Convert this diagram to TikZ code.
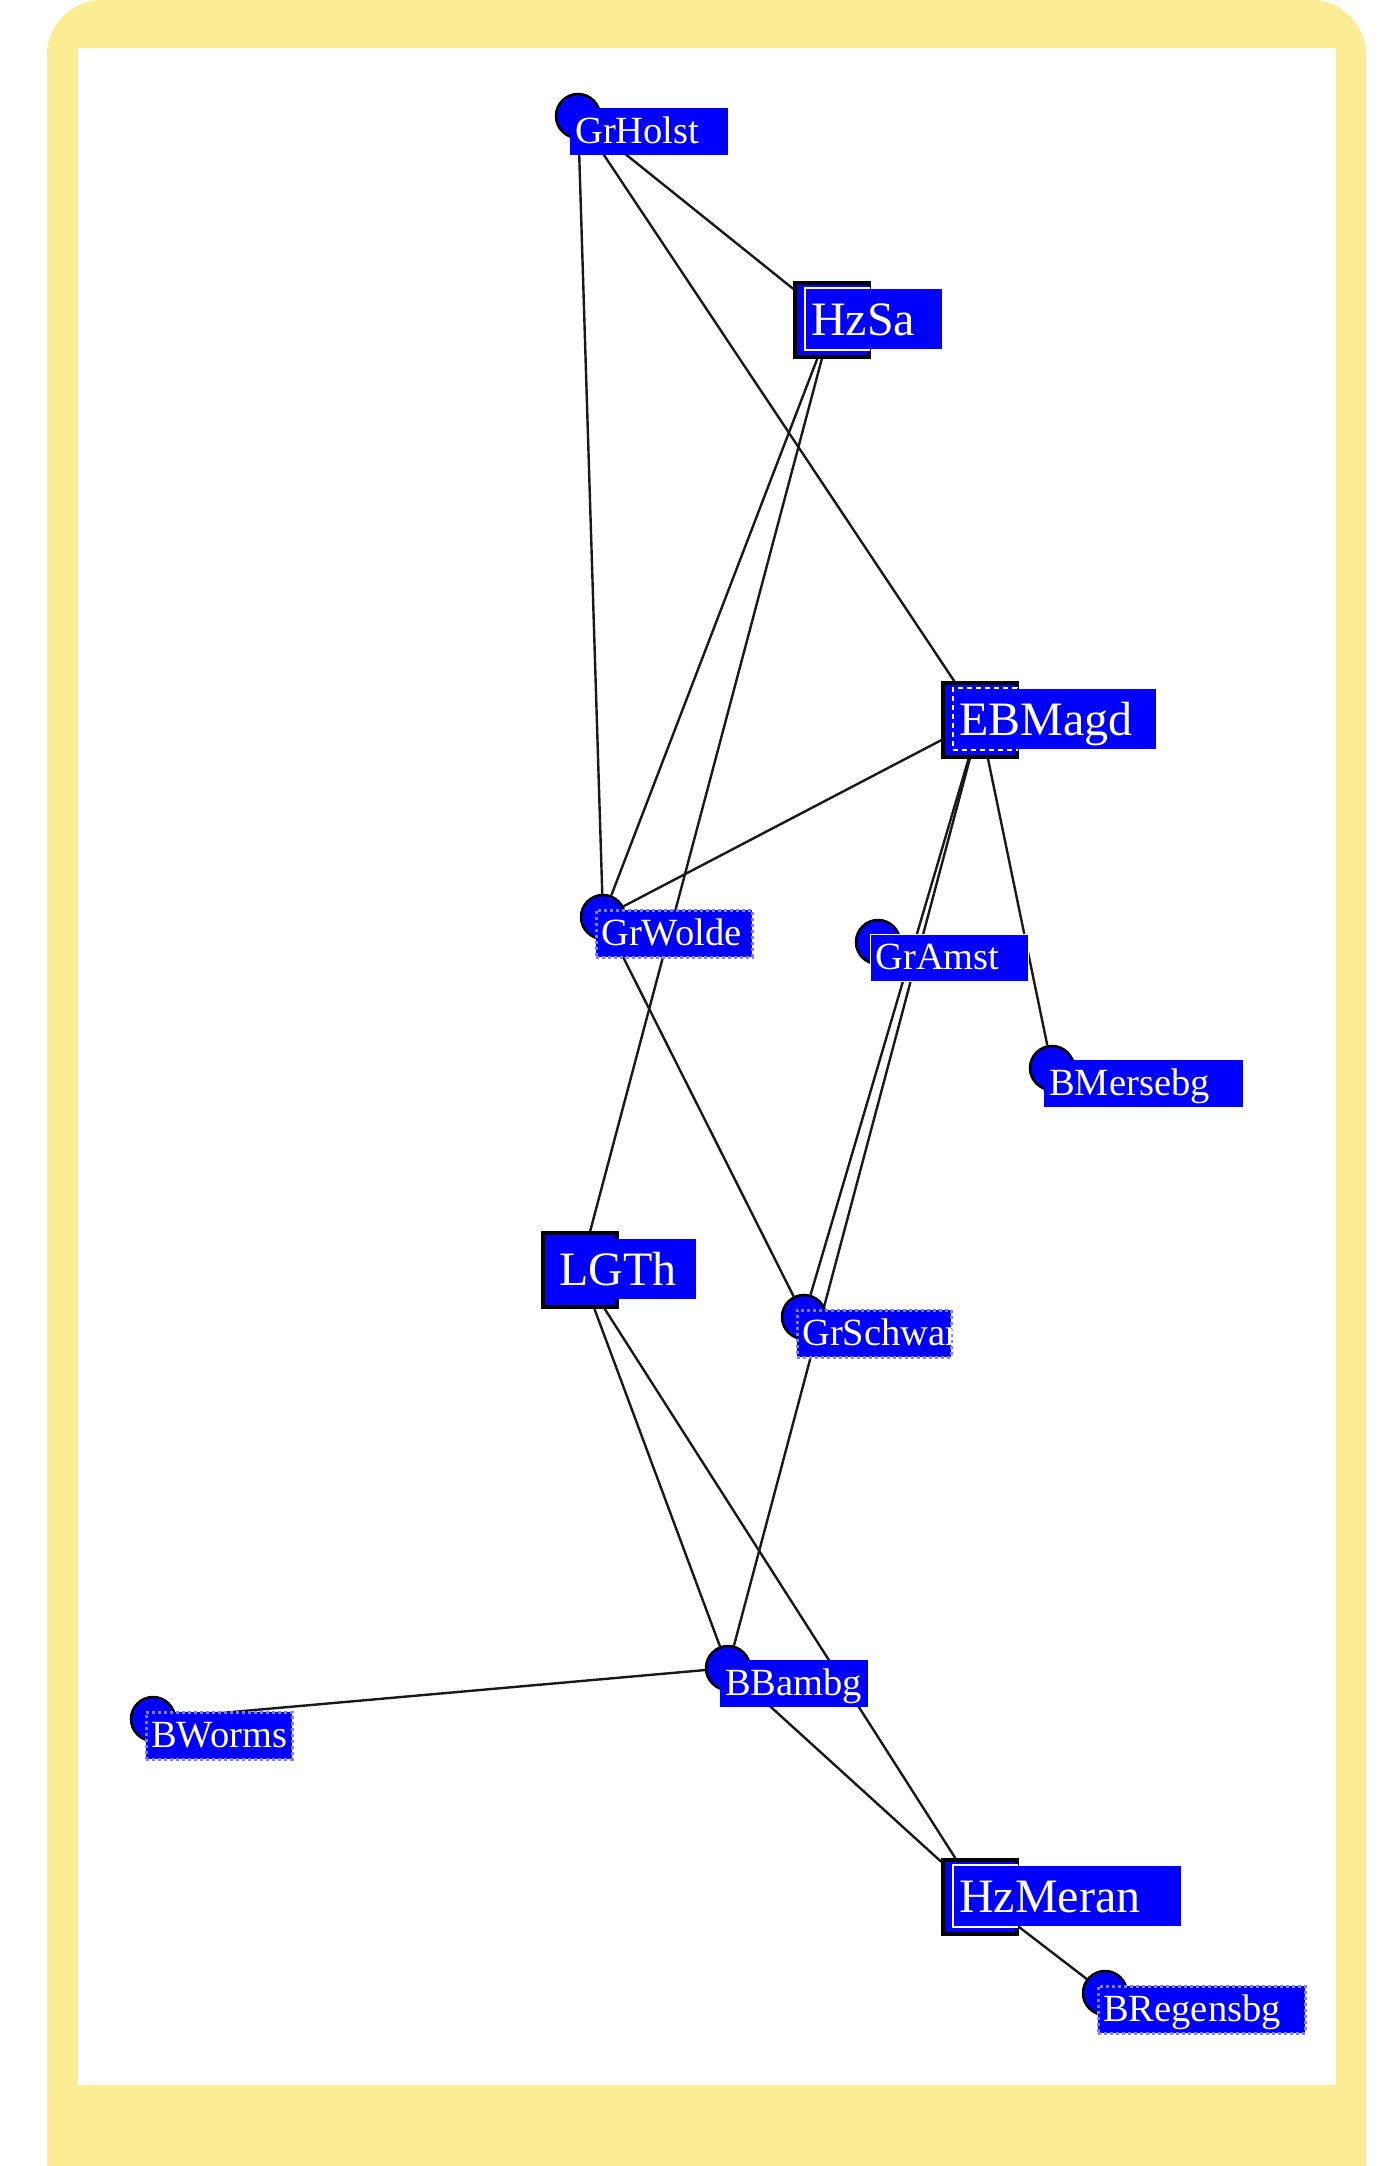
\documentclass[tikz,border=0pt]{standalone}
\usepackage{fontspec}
\setmainfont{Liberation Serif}
\usetikzlibrary{positioning}
\hyphenpenalty=10000
\definecolor{paleyellow}{RGB}{252,236,148}
\definecolor{netblue}{RGB}{0,0,255}
\definecolor{dotblue}{RGB}{125,125,255}
\pgfdeclarelayer{back}
\pgfdeclarelayer{edges}
\pgfsetlayers{back,edges,main}
\tikzset{
    person/.style={circle, draw=black, line width=2.5pt, fill=netblue, minimum size=44pt, inner sep=0pt},
    office/.style={rectangle, draw=black, line width=3.5pt, fill=netblue, minimum size=74pt, inner sep=0pt},
    inset/.style={rectangle, draw=white, line width=2.5pt, minimum width=64pt, minimum height=62pt, inner sep=0pt, xshift=5pt, yshift=1pt},
    tagbase/.style={anchor=north west, fill=netblue, text=white, align=left, inner ysep=0pt, text width=#1},
    tag/.style={tagbase=#1, inner xsep=5pt, text height=35pt, text depth=12pt, xshift=-8pt, yshift=8pt, font=\fontsize{38.5}{40}\selectfont},
    bigtag/.style={tagbase=#1, inner xsep=4pt, text height=46pt, text depth=14pt, xshift=-25pt, yshift=31pt, font=\fontsize{48}{50}\selectfont},
    fuzzy/.style={draw=dotblue, dash pattern=on 3pt off 3pt, line width=2.5pt},
    rel/.style={draw=black!90, line width=2.4pt}
}

\begin{document}
\begin{tikzpicture}[x=1pt, y=-1pt]
    \useasboundingbox (0,0) rectangle (1382,2166);
    \begin{pgfonlayer}{back}
        \begin{scope}
            \clip (0,0) rectangle (1382,2166);
            \fill[paleyellow, rounded corners=55pt] (47,0) rectangle (1366,2240);
            \fill[white] (78,48) rectangle (1336,2085);
        \end{scope}
    \end{pgfonlayer}

    % persons and offices
    \node[person] (holst) at (578,116) {};
    \node[tag=148pt] (holst-l) at (holst.center) {GrHolst};

    \node[office] (hzsa) at (832,320) {};
    \node[inset] (hzsa-f) at (hzsa.center) {};
    \node[bigtag=127pt] (hzsa-l) at (hzsa.center) {HzSa};

    \node[office] (ebmagd) at (980,720) {};
    \node[inset, dash pattern=on 5pt off 4pt] (ebmagd-f) at (ebmagd.center) {};
    \node[bigtag=193pt] (ebmagd-l) at (ebmagd.center) {EBMagd};

    \node[person] (wolde) at (603,917) {};
    \node[tag=146pt, fuzzy] (wolde-l) at (wolde.center) {GrWolde};

    \node[person] (amst) at (878,942) {};
    \node[tag=148pt, draw=white, line width=1pt] (amst-l) at (amst.center) {GrAmst};

    \node[person] (mersebg) at (1052,1068) {};
    \node[tag=189pt] (mersebg-l) at (mersebg.center) {BMersebg};

    \node[office] (lgth) at (580,1270) {};
    \node[bigtag=133pt] (lgth-l) at (lgth.center) {LGTh};

    \node[person] (schwar) at (804,1317) {};
    \node[tag=144pt, fuzzy] (schwar-l) at (schwar.center) {GrSchwar};

    \node[person] (bambg) at (728,1668) {};
    \node[tag=138pt] (bambg-l) at (bambg.center) {BBambg};

    \node[person] (worms) at (153,1719) {};
    \node[tag=136pt, fuzzy] (worms-l) at (worms.center) {BWorms};

    \node[office] (hzmeran) at (980,1897) {};
    \node[inset] (hzmeran-f) at (hzmeran.center) {};
    \node[bigtag=218pt] (hzmeran-l) at (hzmeran.center) {HzMeran};

    \node[person] (regensbg) at (1105,1993) {};
    \node[tag=197pt, fuzzy] (regensbg-l) at (regensbg.center) {BRegensbg};

    % relations
    \begin{pgfonlayer}{edges}
        \draw
        (holst) edge[rel] (hzsa)
        (holst) edge[rel] (ebmagd)
        (holst) edge[rel] (wolde)
        (hzsa) edge[rel] (wolde)
        (hzsa) edge[rel] (lgth)
        (ebmagd) edge[rel] (wolde)
        (ebmagd) edge[rel] (schwar)
        (ebmagd) edge[rel] (bambg)
        (ebmagd) edge[rel] (mersebg)
        (wolde) edge[rel] (schwar)
        (lgth) edge[rel] (bambg)
        (lgth) edge[rel] (hzmeran)
        (bambg) edge[rel] (worms)
        (bambg) edge[rel] (hzmeran)
        (hzmeran) edge[rel] (regensbg);
    \end{pgfonlayer}
\end{tikzpicture}
\end{document}
